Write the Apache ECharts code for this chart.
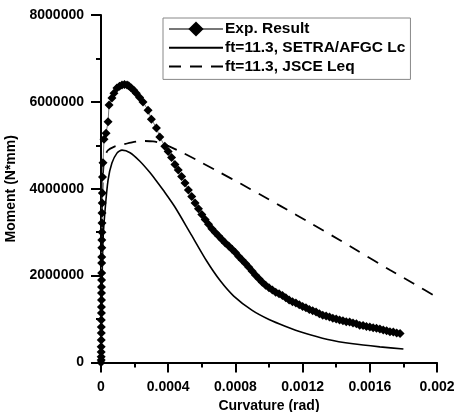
<!DOCTYPE html>
<html>
<head>
<meta charset="utf-8">
<script src="https://cdn.jsdelivr.net/npm/echarts@6/dist/echarts.min.js"></script>
<style>
html,body{margin:0;padding:0;background:#fff;}
#chart{width:456px;height:412px;}
</style>
</head>
<body>
<div id="chart"></div>
<script>
// ---- Data ----
const seriesNames = ['Exp. Result', 'ft=11.3, SETRA/AFGC Lc', 'ft=11.3, JSCE Leq'];
const xTickLabels = ['0', '0.0004', '0.0008', '0.0012', '0.0016', '0.002'];
const yTickLabels = ['0', '2000000', '4000000', '6000000', '8000000'];

const expX = [0, 0.000001, 0.000001, 0.000001, 0.000001, 0.0000015, 0.000002, 0.000002, 0.000002, 0.0000025, 0.0000025,
  0.000003, 0.000003, 0.000003, 0.0000035, 0.000004, 0.000004, 0.0000045, 0.000005, 0.000005, 0.0000055, 0.000006,
  0.000006, 0.000007, 0.000008, 0.000009, 0.000012,
  0.000018, 0.00003, 0.000042, 0.000048, 0.000065, 0.000077, 0.000095, 0.00011, 0.000125, 0.00014, 0.000155, 0.000165,
  0.00018, 0.000195, 0.00021, 0.00023, 0.00025, 0.00028, 0.0003, 0.00033, 0.00035, 0.00038,
  0.00040, 0.00042, 0.00044, 0.00046, 0.00048, 0.00050, 0.00052, 0.00054, 0.00056, 0.00058, 0.00060,
  0.00062, 0.00064, 0.00066, 0.00068, 0.00070, 0.00072, 0.00074, 0.00076, 0.00078, 0.00080,
  0.00082, 0.00084, 0.00086, 0.00088, 0.00090, 0.00092, 0.00094, 0.00096, 0.00098,
  0.00100, 0.00102, 0.00104, 0.00106, 0.00108, 0.00110, 0.00112, 0.00114, 0.00116, 0.00118,
  0.00120, 0.00122, 0.00124, 0.00126, 0.00128, 0.00130, 0.00132, 0.00134, 0.00136, 0.00138,
  0.00140, 0.00142, 0.00144, 0.00146, 0.00148, 0.00150, 0.00152, 0.00154, 0.00156, 0.00158,
  0.00160, 0.00162, 0.00164, 0.00166, 0.00168, 0.00170, 0.00172, 0.00174, 0.00176, 0.00178];
const expY = [0, 58000, 130000, 240000, 360000, 520000, 680000, 820000, 980000, 1140000, 1280000,
  1440000, 1600000, 1740000, 1900000, 2060000, 2290000, 2430000, 2640000, 2820000, 3000000, 3210000,
  3440000, 3670000, 3900000, 4270000, 4600000,
  5140000, 5280000, 5540000, 5930000, 6090000, 6200000, 6320000, 6360000, 6390000, 6400000, 6390000, 6370000,
  6320000, 6270000, 6200000, 6100000, 6000000, 5810000, 5600000, 5400000, 5190000, 4980000,
  4860000, 4720000, 4560000, 4430000, 4280000, 4130000, 3970000, 3820000, 3670000, 3540000, 3410000,
  3290000, 3180000, 3080000, 2990000, 2910000, 2830000, 2750000, 2680000, 2610000, 2530000,
  2440000, 2360000, 2280000, 2190000, 2100000, 2010000, 1930000, 1850000, 1780000,
  1720000, 1670000, 1620000, 1580000, 1540000, 1490000, 1440000, 1400000, 1370000, 1330000,
  1290000, 1260000, 1220000, 1190000, 1160000, 1120000, 1090000, 1070000, 1050000, 1020000,
  1000000, 980000, 960000, 940000, 930000, 910000, 890000, 860000, 850000, 830000,
  820000, 800000, 790000, 770000, 750000, 730000, 710000, 700000, 680000, 670000];

const setraX = [0, 0.000003, 0.000006, 0.000012, 0.000024, 0.000042, 0.000065, 0.000095, 0.000125, 0.000173, 0.00023,
  0.00029, 0.00033, 0.00037, 0.00044, 0.00053, 0.00063, 0.00071, 0.00079, 0.0009, 0.001, 0.0011, 0.0012, 0.00135,
  0.0015, 0.00166, 0.0018];
const setraY = [0, 1000000, 1800000, 2820000, 3500000, 4200000, 4590000, 4820000, 4890000, 4830000, 4640000,
  4380000, 4180000, 3970000, 3580000, 2990000, 2330000, 1880000, 1530000, 1200000, 990000, 830000, 690000, 530000,
  430000, 360000, 310000];

const jsceX = [0, 0.000002, 0.000005, 0.00001, 0.00002, 0.00004, 0.00008, 0.00013, 0.000185, 0.00025, 0.00031, 0.00036,
  0.00047, 0.00059, 0.00071, 0.00083, 0.00095, 0.00107, 0.00126, 0.00142, 0.00152, 0.00172, 0.00186, 0.002];
const jsceY = [0, 1500000, 3000000, 4200000, 4700000, 4880000, 4970000, 5020000, 5070000, 5100000, 5090000, 5050000,
  4860000, 4620000, 4370000, 4120000, 3860000, 3600000, 3180000, 2820000, 2590000, 2130000, 1820000, 1500000];

const zip = (xs, ys) => xs.map((x, i) => [x, ys[i]]);

const font = '"Liberation Sans", Arial, sans-serif';
const chart = echarts.init(document.getElementById('chart'), null, {renderer: 'canvas'});

chart.setOption({
  animation: false,
  backgroundColor: '#fff',
  grid: {left: 101, right: 19, top: 15, bottom: 49.5, containLabel: false, outerBoundsMode: 'none'},
  legend: {
    orient: 'vertical',
    left: 163, top: 18,
    padding: [3, 5, 5, 5],
    itemWidth: 54, itemHeight: 19, itemGap: 2.7,
    borderColor: '#888', borderWidth: 1, backgroundColor: '#fff',
    textStyle: {fontFamily: font, fontWeight: 'bold', fontSize: 15.5, color: '#000', padding: [0, 0, 0, -3]},
    data: [
      {name: seriesNames[0]},
      {name: seriesNames[1], itemStyle: {color: 'rgba(0,0,0,0)', borderWidth: 0}},
      {name: seriesNames[2], itemStyle: {color: 'rgba(0,0,0,0)', borderWidth: 0}}
    ]
  },
  xAxis: {
    type: 'value', min: 0, max: 0.002, interval: 0.0004,
    name: 'Curvature (rad)', nameLocation: 'middle', nameGap: 29,
    nameTextStyle: {fontFamily: font, fontWeight: 'bold', fontSize: 14, color: '#000'},
    axisLine: {show: true, onZero: false, lineStyle: {color: '#000', width: 2}},
    axisTick: {show: true, inside: false, length: 10, lineStyle: {color: '#000', width: 2}},
    minorTick: {show: true, splitNumber: 2, length: 5, lineStyle: {color: '#000', width: 2}},
    splitLine: {show: false},
    axisLabel: {
      margin: 18, fontFamily: font, fontWeight: 'bold', fontSize: 14, color: '#000',
      formatter: v => xTickLabels[Math.round(v / 0.0004)]
    }
  },
  yAxis: {
    type: 'value', min: 0, max: 8000000, interval: 2000000,
    name: 'Moment (N*mm)', nameLocation: 'middle', nameGap: 77, nameRotate: 90,
    nameTextStyle: {fontFamily: font, fontWeight: 'bold', fontSize: 14, color: '#000'},
    axisLine: {show: true, onZero: false, lineStyle: {color: '#000', width: 2}},
    axisTick: {show: true, inside: false, length: 10, lineStyle: {color: '#000', width: 2}},
    minorTick: {show: true, splitNumber: 2, length: 5, lineStyle: {color: '#000', width: 2}},
    splitLine: {show: false},
    axisLabel: {
      margin: 17, fontFamily: font, fontWeight: 'bold', fontSize: 14, color: '#000',
      formatter: v => yTickLabels[Math.round(v / 2000000)]
    }
  },
  series: [
    {
      name: seriesNames[0], type: 'line', data: zip(expX, expY),
      symbol: 'diamond', symbolSize: 9, showSymbol: true,
      itemStyle: {color: '#000', borderWidth: 0},
      lineStyle: {color: '#777', width: 1},
      z: 3
    },
    {
      name: seriesNames[1], type: 'line', data: zip(setraX, setraY),
      symbol: 'none', smooth: 0.25,
      itemStyle: {color: '#000'},
      lineStyle: {color: '#000', width: 1.6},
      z: 2
    },
    {
      name: seriesNames[2], type: 'line', data: zip(jsceX, jsceY),
      symbol: 'none', smooth: 0.25,
      itemStyle: {color: '#000'},
      lineStyle: {color: '#000', width: 1.8, type: [12, 9]},
      z: 2
    }
  ]
});
</script>
</body>
</html>
